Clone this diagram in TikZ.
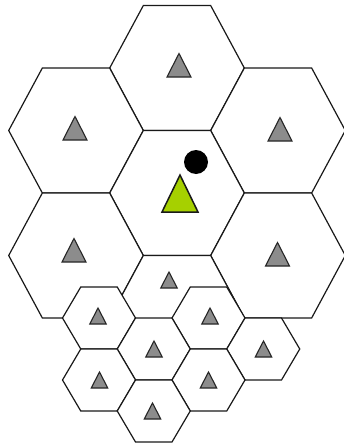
\documentclass[tikz,border=0pt]{standalone}
\begin{document}
\begin{tikzpicture}[x=1pt,y=-1pt,
  hexline/.style={draw=black!90,line width=1.2pt,fill=white,line join=miter},
  grayt/.style={draw=black!85,line width=1.1pt,fill=black!45,line join=miter},
  greent/.style={draw=black!90,line width=1.5pt,fill={rgb,255:red,166;green,208;blue,0},line join=miter}]
\useasboundingbox (0,0) rectangle (344,447);
% hexagon: center x, center y, horizontal radius, half height
\newcommand\hexcell[4]{\path[hexline] ({#1-#3},#2) -- ({#1-#3/2},{#2-#4}) -- ({#1+#3/2},{#2-#4}) -- ({#1+#3},#2) -- ({#1+#3/2},{#2+#4}) -- ({#1-#3/2},{#2+#4}) -- cycle;}
% triangle: center x, base y, width, height, style
\newcommand\tricell[5]{\path[#5] (#1,{#2-#4}) -- ({#1+#3/2},#2) -- ({#1-#3/2},#2) -- cycle;}
% large cells
\foreach \cx/\cy in {177/68, 76/130.5, 278/130.5, 177/193, 76/255.5, 278/255.5, 177/318}
  {\hexcell{\cx}{\cy}{67.3}{62.5}}
% small cells
\foreach \cx/\cy in {99/318, 208.5/318, 153.75/349, 263.25/349, 99/380, 208.5/380, 153.75/411}
  {\hexcell{\cx}{\cy}{36.5}{31}}
% large gray triangles
\foreach \cx/\by in {179/77, 75/140, 280/141, 74/262, 277.5/266}
  {\tricell{\cx}{\by}{24}{23.5}{grayt}}
% small gray triangles
\foreach \cx/\by in {169/288, 98/324, 210/324, 154/357, 263.5/357, 99.5/388, 208.5/388, 152.5/419}
  {\tricell{\cx}{\by}{16.5}{16}{grayt}}
% serving base station and user
\tricell{180}{212}{36}{37}{greent}
\fill[black] (196,162) circle (12);
\end{tikzpicture}
\end{document}
